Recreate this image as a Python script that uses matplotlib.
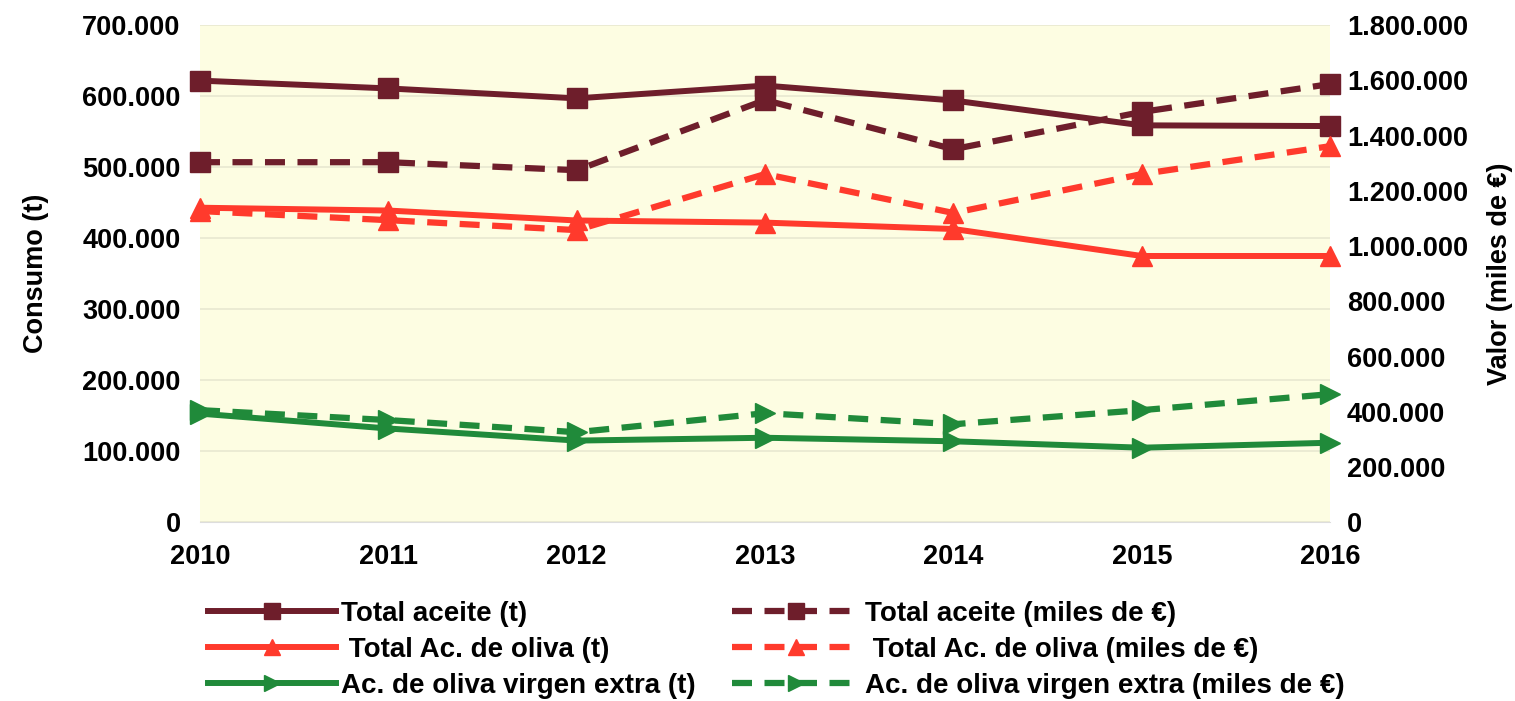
import matplotlib.pyplot as plt
from matplotlib.ticker import FuncFormatter

years = [2010, 2011, 2012, 2013, 2014, 2015, 2016]

# consumo en toneladas (eje izquierdo)
total_aceite_t = [622000, 611000, 597000, 615000, 594000, 559000, 558000]
total_oliva_t = [443000, 439000, 425000, 422000, 413000, 375000, 375000]
aove_t = [153000, 132000, 115000, 119000, 114000, 105000, 112000]

# valor en miles de euros (eje derecho)
total_aceite_eur = [1304000, 1304000, 1275000, 1529000, 1351000, 1486000, 1587000]
total_oliva_eur = [1127000, 1094000, 1058000, 1261000, 1120000, 1261000, 1362000]
aove_eur = [406000, 370000, 326000, 395000, 355000, 406000, 464000]

labels_t = ["Total aceite (t)", " Total Ac. de oliva (t)", "Ac. de oliva virgen extra (t)"]
labels_eur = ["Total aceite (miles de €)", " Total Ac. de oliva (miles de €)",
              "Ac. de oliva virgen extra (miles de €)"]

colors = ["#6E1E2B", "#FF3A2C", "#208A3A"]
markers = ["s", "^", ">"]

plt.rcParams["font.family"] = ["Liberation Sans", "DejaVu Sans"]
plt.rcParams["font.weight"] = "bold"

FS = 19.5


def miles(v, pos):
    return f"{int(v):,}".replace(",", ".")


fig = plt.figure(figsize=(15.15, 7.01), dpi=100)
ax = fig.add_axes([0.132, 0.255, 0.746, 0.709])
ax2 = ax.twinx()

ax.set_facecolor("#FDFDE2")
ax.set_zorder(ax2.get_zorder() - 1)
ax2.patch.set_visible(False)

handles = []
for vals, col, mk, lab in zip([total_aceite_t, total_oliva_t, aove_t], colors, markers, labels_t):
    h, = ax.plot(years, vals, color=col, lw=4.3, marker=mk, ms=14, label=lab,
                 clip_on=False, zorder=3)
    handles.append(h)
for vals, col, mk, lab in zip([total_aceite_eur, total_oliva_eur, aove_eur], colors, markers, labels_eur):
    h, = ax2.plot(years, vals, color=col, lw=4.5, ls=(0, (3.2, 2.0)), marker=mk, ms=14,
                  label=lab, clip_on=False, zorder=3)
    handles.append(h)

ax.set_xlim(2010, 2016)
ax.set_ylim(0, 700000)
ax2.set_ylim(0, 1800000)
ax.set_xticks(years)
ax.set_yticks(range(0, 700001, 100000))
ax2.set_yticks(range(0, 1800001, 200000))
ax.yaxis.set_major_formatter(FuncFormatter(miles))
ax2.yaxis.set_major_formatter(FuncFormatter(miles))

ax.grid(axis="y", color="#E8E8D0", lw=1.2)
for a in (ax, ax2):
    for s in a.spines.values():
        s.set_visible(False)
    a.tick_params(length=0, labelsize=FS)
ax.spines["bottom"].set_visible(True)
ax.spines["bottom"].set_color("#DDDDDD")
ax.tick_params(axis="x", pad=16)
ax.tick_params(axis="y", pad=14)
ax2.tick_params(axis="y", pad=12)

ax.set_ylabel("Consumo (t)", fontsize=FS, fontweight="bold", labelpad=24)
ax2.set_ylabel("Valor (miles de €)", fontsize=FS, fontweight="bold", labelpad=14)

fig.legend(handles=handles, loc="upper left", bbox_to_anchor=(0.128, 0.163), ncol=2,
           frameon=False, fontsize=20, handlelength=4.6, handletextpad=0.2,
           columnspacing=1.3, labelspacing=0.36, borderpad=0, markerscale=0.8)

fig.savefig("out.png", dpi=100)
